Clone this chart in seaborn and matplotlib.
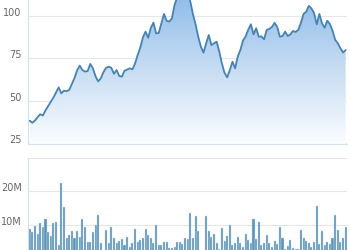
import numpy as np
import pandas as pd
import matplotlib
matplotlib.use("Agg")
import matplotlib.pyplot as plt
import seaborn as sns
from matplotlib.colors import LinearSegmentedColormap

# ---- data ----
price = [38.4, 37.2, 38.5, 40.5, 42.2, 41.5, 44.5, 47.0, 49.5, 52.0,
         55.0, 58.0, 54.5, 56.0, 55.8, 56.5, 60.0, 63.5, 68.0, 70.8,
         68.2, 67.3, 67.6, 71.8, 69.2, 64.5, 61.5, 63.3, 67.0, 69.5,
         70.2, 69.5, 66.0, 68.2, 64.7, 64.3, 67.8, 68.5, 69.2, 68.6,
         72.0, 77.0, 81.5, 87.5, 90.8, 87.2, 93.0, 96.1, 89.8, 90.0,
         95.7, 101.2, 97.2, 96.7, 98.6, 106.5, 111.0, 114.0, 116.0, 115.0,
         113.0, 108.5, 101.0, 95.0, 87.8, 82.0, 78.4, 83.9, 88.8, 82.9,
         83.9, 84.9, 79.0, 72.0, 66.5, 63.9, 68.2, 73.1, 69.2, 76.1,
         80.0, 85.5, 88.0, 92.0, 95.1, 89.2, 92.8, 87.8, 88.0, 86.3,
         91.8, 92.4, 93.5, 96.0, 93.5, 87.8, 88.2, 90.8, 88.2, 89.2,
         91.2, 90.6, 91.8, 96.0, 101.2, 102.5, 106.0, 104.5, 101.6, 95.1,
         101.2, 95.7, 93.1, 97.2, 95.3, 91.4, 86.0, 84.0, 81.0, 78.5,
         80.0]

volume_m = [8.9, 8.1, 9.8, 7.6, 10.8, 9.5, 12.0, 7.9, 6.8, 10.8,
            11.0, 4.1, 22.6, 15.5, 6.2, 7.1, 8.4, 6.2, 8.4, 6.5,
            12.0, 9.5, 5.1, 5.1, 8.1, 10.1, 13.2, 4.9, 2.0, 8.6,
            4.9, 9.4, 6.3, 4.9, 5.5, 5.9, 4.2, 6.5, 3.5, 4.7,
            8.8, 5.2, 5.7, 6.4, 8.9, 7.3, 6.3, 4.9, 10.1, 4.2,
            4.2, 5.1, 5.1, 3.4, 3.2, 3.7, 5.1, 5.1, 4.5, 6.2,
            5.9, 13.6, 6.3, 12.7, 8.4, 2.0, 2.0, 12.8, 8.3, 6.5,
            7.4, 4.7, 2.9, 9.1, 5.5, 6.9, 10.1, 4.2, 4.9, 6.5,
            4.9, 3.5, 7.4, 5.7, 4.9, 12.0, 6.1, 10.9, 4.2, 4.7,
            7.3, 4.7, 3.5, 5.4, 4.5, 9.5, 6.3, 3.0, 3.9, 5.6,
            3.2, 2.9, 2.9, 8.6, 6.2, 5.5, 4.7, 3.5, 5.2, 15.7,
            4.5, 8.3, 4.2, 5.0, 4.5, 6.2, 13.0, 8.6, 5.0, 6.2,
            9.6]

price_ticks = [25, 50, 75, 100]
price_labels = ["25", "50", "75", "100"]
volume_ticks = [0, 10e6, 20e6, 30e6]
volume_labels = ["0", "10M", "20M", ""]

# ---- style ----
sns.set_style("white")
plt.rcParams['font.family'] = ['DejaVu Sans']

LINE = "#4683b3"
BAR = "#5e94b7"
GRID = "#e6e6e6"
TXT = "#666666"
AXL = "#d8e0ea"

n = len(price)
df = pd.DataFrame({"i": np.arange(n), "price": price,
                   "vol": np.array(volume_m) * 1e6})

W, H = 350.0, 250.0
fig = plt.figure(figsize=(3.5, 2.5), dpi=100)
ax1 = fig.add_axes([28 / W, (H - 144) / H, 319 / W, 144 / H])
ax2 = fig.add_axes([28 / W, (H - 259.3) / H, 319 / W, (259.3 - 157.5) / H])

XL = (-0.65, 120.5)
YL1 = (24.7, 109.4)

# ---- price panel ----
poly = ax1.fill_between(df["i"], df["price"], YL1[0], color="none", lw=0)
cmap = LinearSegmentedColormap.from_list("g", ["#fbfdff", "#c9def3", "#94bee9"])
grad = np.linspace(0, 1, 256).reshape(-1, 1)
im = ax1.imshow(grad, cmap=cmap, origin="lower", aspect="auto",
                extent=[XL[0], XL[1], YL1[0], YL1[1]], zorder=1)
im.set_clip_path(poly.get_paths()[0], transform=ax1.transData)
sns.lineplot(data=df, x="i", y="price", ax=ax1, color=LINE, lw=1.3, zorder=3)
ax1.set_xlim(*XL)
ax1.set_ylim(*YL1)
ax1.set_yticks(price_ticks)
ax1.set_yticklabels(price_labels, va="baseline")
ax1.set_xticks([])
ax1.grid(axis="y", color=GRID, lw=0.8)
ax1.set_axisbelow(True)

# ---- volume panel ----
sns.barplot(data=df, x="i", y="vol", ax=ax2, native_scale=True,
            color=BAR, saturation=1, width=0.78, errorbar=None,
            edgecolor="#cfe2ef", linewidth=0.3, zorder=3)
ax2.set_xlim(*XL)
ax2.set_ylim(0, 30e6)
ax2.set_yticks(volume_ticks)
ax2.set_yticklabels(volume_labels, va="baseline")
ax2.set_xticks([])
ax2.grid(axis="y", color=GRID, lw=0.8)
ax2.set_axisbelow(True)

for ax in (ax1, ax2):
    ax.set_xlabel("")
    ax.set_ylabel("")
    ax.set_facecolor("none")
    ax.tick_params(axis="y", length=0, pad=4.5, labelsize=7, labelcolor=TXT)
    for s in ("top", "right"):
        ax.spines[s].set_visible(False)
    ax.spines["left"].set_color(AXL)
    ax.spines["left"].set_linewidth(0.8)
ax1.spines["bottom"].set_color(AXL)
ax1.spines["bottom"].set_linewidth(0.8)
ax2.spines["bottom"].set_visible(False)

fig.savefig("out.png", dpi=100)
